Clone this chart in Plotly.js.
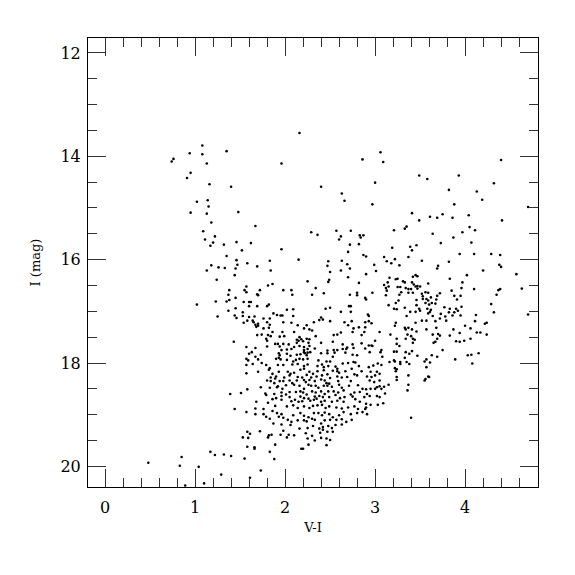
<!DOCTYPE html>
<html>
<head>
<meta charset="utf-8">
<script src="https://cdn.plot.ly/plotly-3.0.1.min.js"></script>
<style>html,body{margin:0;padding:0;background:#fff;}#chart{width:575px;height:575px;}</style>
</head>
<body>
<div id="chart"></div>
<script>
// V-I colour of each star
const vi = [
1.08,0.94,1.08,1.35,0.76,0.74,1.13,0.95,0.91,1.16,1.40,
2.16,1.96,2.86,3.06,3.09,3.00,2.40,
4.40,3.49,3.58,3.93,4.32,
1.02,1.14,1.15,0.95,1.13,1.18,1.09,1.22,1.11,1.20,1.17,1.32,1.46,1.48,1.35,1.46,1.47,1.18,1.13,1.26,1.33,1.45,1.44,1.24,1.38,1.37,1.45,1.38,1.23,1.35,1.02,1.45,1.37,1.25,1.44,1.46,
2.63,2.66,2.97,1.67,2.29,2.36,2.57,2.73,2.62,2.60,2.83,2.87,2.84,1.62,1.52,1.96,2.72,2.82,2.70,2.87,2.90,3.10,3.13,1.58,1.69,1.83,2.15,2.48,2.47,2.63,2.69,2.72,2.99,1.84,2.50,2.62,2.90,3.01,2.70,2.49,2.48,2.82,2.25,1.86,1.81,1.57,2.34,1.72,1.55,1.57,1.98,2.07,3.10,3.12,3.13,2.43,2.08,2.30,1.69,1.70,2.72,2.80,2.80,2.97,2.89,2.90,3.12,1.54,1.60,1.62,1.60,1.69,1.82,1.80,2.02,2.09,2.45,2.50,2.71,2.73,2.62,2.73,3.15,1.53,1.53,1.87,1.91,1.95,1.97,2.09,1.60,1.66,1.76,1.83,1.58,1.64,1.65,1.54,1.67,1.70,1.68,1.70,1.80,1.83,1.82,1.76,1.98,2.07,2.14,2.21,2.24,2.27,2.30,2.32,2.38,2.40,2.42,2.50,2.10,1.97,1.86,1.69,1.74,1.81,1.84,1.94,1.99,2.16,2.34,2.54,2.58,2.62,2.66,2.70,2.74,2.76,2.75,2.82,2.89,2.89,2.88,2.92,2.93,2.93,2.96,2.85,3.05,
3.82,4.13,4.19,3.88,4.70,3.41,3.75,3.61,3.69,3.86,4.04,3.49,4.41,3.35,3.33,3.21,4.05,4.11,3.97,3.64,3.87,3.73,4.07,3.46,3.39,3.41,3.19,3.94,4.10,4.29,4.39,3.37,3.22,3.52,3.82,3.18,3.27,4.38,4.40,3.70,3.69,4.20,4.57,4.02,3.45,3.42,3.47,3.16,3.83,3.23,3.25,3.14,3.31,3.33,3.41,3.43,3.45,3.47,3.50,3.59,3.97,3.15,3.25,3.28,3.34,3.37,3.40,3.47,3.96,4.10,4.39,4.37,4.63,3.29,3.37,3.42,3.52,3.56,3.59,3.72,3.85,4.35,3.27,3.53,3.62,3.69,3.88,3.95,3.26,3.23,3.46,3.53,3.57,3.59,3.68,3.91,3.33,3.21,3.24,3.46,3.49,3.56,3.60,3.63,3.58,3.62,3.67,3.77,3.83,3.90,3.96,4.29,3.39,3.45,3.50,3.59,3.61,3.73,3.82,3.88,3.92,3.95,4.32,4.70,3.35,3.52,3.64,3.72,3.78,3.86,4.12,3.23,3.22,3.45,3.57,3.67,3.79,4.11,4.24,4.22,4.00,3.33,3.34,3.37,3.41,3.46,3.57,3.68,3.87,4.06,3.17,3.36,3.40,3.64,3.70,3.72,3.83,3.94,4.13,4.17,4.24,
1.43,1.39,1.44,0.48,0.85,0.83,0.89,1.04,1.10,1.17,1.22,1.32,1.40,1.29,
1.79,1.80,1.89,1.92,1.98,2.04,2.13,2.15,2.18,2.20,2.24,2.27,2.26,2.13,2.40,2.53,2.64,2.75,2.85,2.93,3.00,2.96,2.97,
1.57,1.67,1.80,1.94,1.96,2.02,2.07,2.10,2.16,2.21,2.21,2.25,2.28,2.25,2.21,2.27,2.33,2.47,2.54,2.58,2.64,2.68,2.76,2.69,2.89,3.07,3.06,1.63,1.60,1.73,
1.93,1.94,2.02,2.06,2.13,2.17,2.22,2.24,2.40,2.47,2.53,2.55,2.67,2.75,2.80,2.94,3.08,1.67,1.70,
1.57,1.59,1.90,1.93,1.95,2.02,2.09,2.12,2.16,2.20,2.25,2.37,2.46,2.50,2.76,2.78,2.70,2.64,3.03,1.64,1.74,1.79,
1.92,1.98,2.08,2.14,2.21,2.25,2.36,2.41,2.43,2.48,2.56,2.58,2.74,2.82,2.93,2.98,3.07,1.57,1.83,1.70,
1.57,1.82,1.86,1.93,2.03,2.06,2.10,2.17,2.21,2.27,2.36,2.31,2.43,2.53,2.58,2.60,2.67,2.77,2.85,2.95,3.02,3.05,1.84,1.90,1.89,1.99,2.05,2.14,2.19,2.24,2.29,2.35,2.41,2.47,2.50,2.58,2.63,2.69,2.80,2.91,3.00,2.96,
1.80,1.84,1.88,1.94,1.98,2.05,2.08,2.13,2.21,2.23,2.27,2.33,2.40,2.44,2.46,2.49,2.59,2.73,2.94,2.99,3.05,3.10,3.07,3.02,1.92,1.91,
1.73,1.83,1.97,2.01,2.10,2.16,2.21,2.26,2.29,2.34,2.37,2.43,2.47,2.52,2.60,2.63,2.71,2.81,2.86,2.90,2.95,3.00,3.05,1.51,
1.58,1.78,1.88,1.96,2.01,2.05,2.12,2.17,2.20,2.24,2.30,2.34,2.40,2.44,2.48,2.54,2.59,2.65,2.73,2.77,2.83,2.91,2.94,3.02,3.11,1.79,1.90,1.96,2.05,2.17,2.21,2.26,2.33,2.38,2.42,2.49,2.56,2.61,2.66,2.75,2.88,3.05,
1.86,1.96,2.07,2.11,2.15,2.19,2.28,2.32,2.35,2.40,2.44,2.52,2.58,2.65,2.78,2.83,2.90,3.03,3.09,1.68,1.81,
1.67,1.76,1.89,2.02,2.09,2.14,2.21,2.27,2.31,2.36,2.41,2.45,2.49,2.57,2.63,2.70,2.77,2.81,2.89,2.90,2.95,1.57,1.86,
1.67,1.76,1.91,1.96,2.09,2.17,2.21,2.26,2.32,2.37,2.41,2.44,2.49,2.53,2.60,2.65,2.73,2.80,2.86,2.91,1.93,1.98,1.79,
1.83,2.03,2.07,2.14,2.21,2.24,2.30,2.33,2.40,2.44,2.50,2.57,2.63,2.68,2.74,1.87,1.96,
2.06,2.16,2.25,2.31,2.38,2.42,2.48,2.52,2.56,2.63,2.42,1.72,1.98,1.58,
1.61,1.82,1.85,1.95,2.04,2.10,2.23,2.30,2.39,2.47,2.53,1.53,1.59,1.81,
2.02,2.25,2.33,2.40,2.46,2.50,1.89,2.26,2.46,1.58,1.66,1.66,2.18,2.20,
1.83,1.55,1.88,1.73,1.61,
3.24,3.34,3.42,3.44,3.69,3.67,3.65,3.90,3.94,3.99,4.06,3.42,3.24,3.27,3.21,3.24,3.34,3.38,3.41,3.47,3.63,3.69,3.75,4.03,4.07,4.15,3.33,3.57,3.55,3.61,3.89,3.16,3.21,3.22,3.28,3.28,3.35,3.38,4.08,3.22,3.24,3.23,3.57,3.24,3.24,3.37,3.55,3.56,3.59,3.60,3.15,3.37,3.36,3.40
];
// I magnitude of each star
const iMag = [
13.79,13.94,13.96,13.90,14.05,14.10,14.14,14.32,14.42,14.54,14.59,
13.55,14.14,14.06,13.92,14.11,14.51,14.59,
14.07,14.37,14.44,14.37,14.52,
14.88,14.85,14.97,15.09,15.11,15.28,15.45,15.55,15.61,15.67,15.73,15.71,15.66,15.08,15.93,16.01,16.10,16.11,16.21,16.15,16.16,16.17,16.30,16.39,16.59,16.68,16.74,16.78,16.81,16.81,16.87,16.94,16.99,17.10,17.08,17.13,
14.72,14.86,14.93,15.35,15.47,15.52,15.44,15.44,15.55,15.61,15.53,15.53,15.57,15.68,15.82,15.80,15.71,15.70,15.85,15.91,15.94,15.95,16.03,16.07,16.13,16.02,16.00,16.03,16.12,16.02,16.09,16.17,16.10,16.21,16.24,16.21,16.28,16.22,16.34,16.39,16.43,16.45,16.42,16.47,16.50,16.52,16.55,16.59,16.59,16.63,16.59,16.59,16.49,16.55,16.60,16.65,16.68,16.68,16.67,16.69,16.68,16.64,16.69,16.64,16.74,16.77,16.69,16.82,16.82,16.82,16.90,16.90,16.87,16.90,16.97,16.96,16.95,16.93,16.90,16.90,17.01,17.01,16.88,17.02,17.09,17.04,17.07,17.08,17.08,17.09,17.11,17.10,17.14,17.14,17.18,17.18,17.21,17.22,17.26,17.24,17.30,17.28,17.21,17.26,17.32,17.33,17.21,17.22,17.27,17.33,17.27,17.35,17.37,17.21,17.17,17.12,17.16,17.19,17.40,17.40,17.40,17.46,17.45,17.46,17.48,17.49,17.48,17.50,17.48,17.46,17.45,17.41,17.21,17.27,17.19,17.33,17.40,17.31,17.21,17.31,17.40,17.06,17.09,17.19,17.23,17.46,17.40,
14.65,14.68,14.84,14.93,14.98,15.10,15.12,15.17,15.19,15.19,15.14,15.24,15.24,15.36,15.40,15.43,15.37,15.43,15.47,15.50,15.57,15.68,15.67,15.72,15.75,15.82,15.77,15.89,15.89,15.89,15.91,15.95,15.99,16.02,16.04,16.07,16.11,16.10,16.14,16.12,16.17,16.21,16.28,16.30,16.30,16.33,16.32,16.35,16.37,16.38,16.37,16.44,16.42,16.44,16.44,16.48,16.52,16.51,16.52,16.46,16.44,16.52,16.53,16.53,16.55,16.57,16.57,16.56,16.55,16.57,16.57,16.59,16.56,16.63,16.64,16.64,16.66,16.63,16.64,16.65,16.60,16.68,16.68,16.71,16.73,16.70,16.70,16.70,16.79,16.84,16.78,16.76,16.76,16.79,16.77,16.77,16.93,16.95,16.96,16.88,16.95,16.84,16.87,16.84,16.95,16.97,16.85,16.92,16.95,16.95,16.91,16.86,17.01,17.01,16.99,17.04,17.01,17.05,17.02,17.02,16.99,17.08,17.02,17.06,17.09,17.18,17.09,17.14,17.10,17.08,17.07,17.22,17.28,17.22,17.18,17.19,17.18,17.19,17.22,17.24,17.28,17.32,17.35,17.32,17.35,17.39,17.35,17.32,17.35,17.33,17.45,17.45,17.48,17.45,17.44,17.47,17.47,17.42,17.41,17.41,17.45,
17.59,18.60,18.89,19.93,19.82,19.99,20.37,20.01,20.33,19.72,19.78,19.77,19.80,20.16,
17.53,17.57,17.63,17.63,17.63,17.64,17.55,17.57,17.54,17.58,17.53,17.54,17.61,17.61,17.61,17.59,17.64,17.64,17.62,17.66,17.57,17.66,17.67,
17.69,17.71,17.68,17.68,17.75,17.74,17.73,17.69,17.67,17.69,17.75,17.73,17.79,17.80,17.79,17.67,17.72,17.76,17.75,17.75,17.73,17.73,17.71,17.70,17.72,17.75,17.79,17.79,17.82,17.84,
17.81,17.85,17.82,17.86,17.84,17.83,17.81,17.85,17.81,17.81,17.88,17.80,17.80,17.84,17.85,17.79,17.88,17.88,17.93,
17.92,17.95,17.92,17.90,17.93,17.94,17.97,17.94,17.92,17.93,17.92,17.95,17.97,17.97,17.98,17.99,18.00,18.01,18.01,18.02,18.00,18.04,
18.04,18.04,18.03,18.02,18.06,18.03,18.06,18.03,18.08,18.06,18.07,18.11,18.11,18.06,18.08,18.05,18.04,18.04,18.10,18.17,
18.20,18.13,18.21,18.17,18.17,18.21,18.19,18.13,18.11,18.17,18.16,18.21,18.14,18.15,18.16,18.19,18.16,18.22,18.16,18.17,18.17,18.21,18.28,18.26,18.30,18.28,18.24,18.27,18.28,18.23,18.28,18.26,18.24,18.22,18.29,18.26,18.28,18.27,18.24,18.26,18.24,18.27,
18.34,18.35,18.39,18.35,18.35,18.34,18.39,18.34,18.33,18.37,18.33,18.35,18.32,18.34,18.39,18.40,18.35,18.35,18.34,18.37,18.34,18.46,18.50,18.47,18.45,18.47,
18.47,18.48,18.50,18.43,18.42,18.44,18.50,18.42,18.44,18.44,18.48,18.44,18.44,18.46,18.42,18.48,18.44,18.43,18.50,18.51,18.50,18.50,18.45,18.58,
18.51,18.59,18.60,18.57,18.61,18.56,18.56,18.55,18.57,18.61,18.55,18.57,18.55,18.60,18.55,18.55,18.57,18.53,18.61,18.57,18.56,18.60,18.64,18.64,18.59,18.62,18.68,18.64,18.66,18.65,18.68,18.69,18.65,18.64,18.66,18.66,18.62,18.68,18.66,18.65,18.66,18.66,
18.70,18.71,18.74,18.71,18.75,18.74,18.73,18.71,18.69,18.75,18.73,18.75,18.73,18.75,18.70,18.75,18.79,18.81,18.78,18.75,18.77,
18.88,18.89,18.83,18.84,18.82,18.87,18.84,18.87,18.83,18.82,18.81,18.87,18.84,18.86,18.88,18.86,18.84,18.89,18.89,18.86,18.81,18.95,18.93,
18.99,18.99,18.97,18.99,19.01,18.97,19.02,19.05,18.97,18.97,19.01,18.96,18.99,19.05,19.01,18.95,18.99,18.97,18.95,18.99,19.04,19.06,19.04,
19.08,19.10,19.14,19.11,19.11,19.13,19.08,19.10,19.17,19.11,19.10,19.10,19.09,19.14,19.10,19.17,19.19,
19.20,19.27,19.26,19.22,19.27,19.24,19.22,19.26,19.20,19.19,19.29,19.32,19.31,19.33,
19.37,19.40,19.39,19.39,19.39,19.40,19.36,19.41,19.35,19.33,19.33,19.44,19.45,19.44,
19.44,19.46,19.50,19.45,19.46,19.49,19.58,19.58,19.59,19.62,19.63,19.66,19.66,19.66,
19.72,19.85,19.86,20.08,20.22,
17.53,17.53,17.53,17.55,17.53,17.59,17.61,17.58,17.59,17.57,17.53,17.61,17.63,17.67,17.78,17.78,17.79,17.82,17.77,17.86,17.85,17.88,17.75,17.85,17.84,17.81,17.90,17.93,17.97,17.99,17.93,17.98,17.95,17.97,17.98,18.02,17.98,18.02,18.01,18.10,18.12,18.16,18.08,18.27,18.33,18.24,18.34,18.31,18.26,18.27,18.42,18.42,18.53,19.06
];
const xTicks = [0, 1, 2, 3, 4];
const yTicks = [12, 14, 16, 18, 20];

const serif = 'DejaVu Serif, Liberation Serif, serif';
const axisCommon = {
  showline: true, linecolor: '#000', linewidth: 1, mirror: 'allticks',
  ticks: 'inside', ticklen: 18, tickwidth: 1, tickcolor: '#333',
  showgrid: false, zeroline: false,
  tickfont: {family: serif, size: 16, color: '#000'}
};
const layout = {
  width: 575, height: 575,
  margin: {l: 88, r: 37, t: 38, b: 88},
  paper_bgcolor: '#fff', plot_bgcolor: '#fff',
  showlegend: false,
  xaxis: Object.assign({}, axisCommon, {
    range: [-0.19, 4.81], tickmode: 'array', tickvals: xTicks, ticktext: xTicks.map(String),
    ticklabelstandoff: 6,
    minor: {dtick: 0.2, tick0: 0, ticklen: 9, tickwidth: 1, tickcolor: '#333', ticks: 'inside', showgrid: false},
    title: {text: 'V-I', font: {family: serif, size: 13, color: '#000'}, standoff: 6}
  }),
  yaxis: Object.assign({}, axisCommon, {
    range: [20.40, 11.71], tickmode: 'array', tickvals: yTicks, ticktext: yTicks.map(String),
    ticklabelstandoff: 3,
    minor: {dtick: 0.5, tick0: 12, ticklen: 9, tickwidth: 1, tickcolor: '#333', ticks: 'inside', showgrid: false},
    title: {text: 'I (mag)', font: {family: serif, size: 13, color: '#000'}, standoff: 16}
  })
};
const trace = {
  x: vi, y: iMag, type: 'scatter', mode: 'markers',
  marker: {color: '#000', size: 2.6, line: {width: 0}},
  hoverinfo: 'skip'
};
Plotly.newPlot('chart', [trace], layout, {displayModeBar: false, staticPlot: true});
</script>
</body>
</html>
